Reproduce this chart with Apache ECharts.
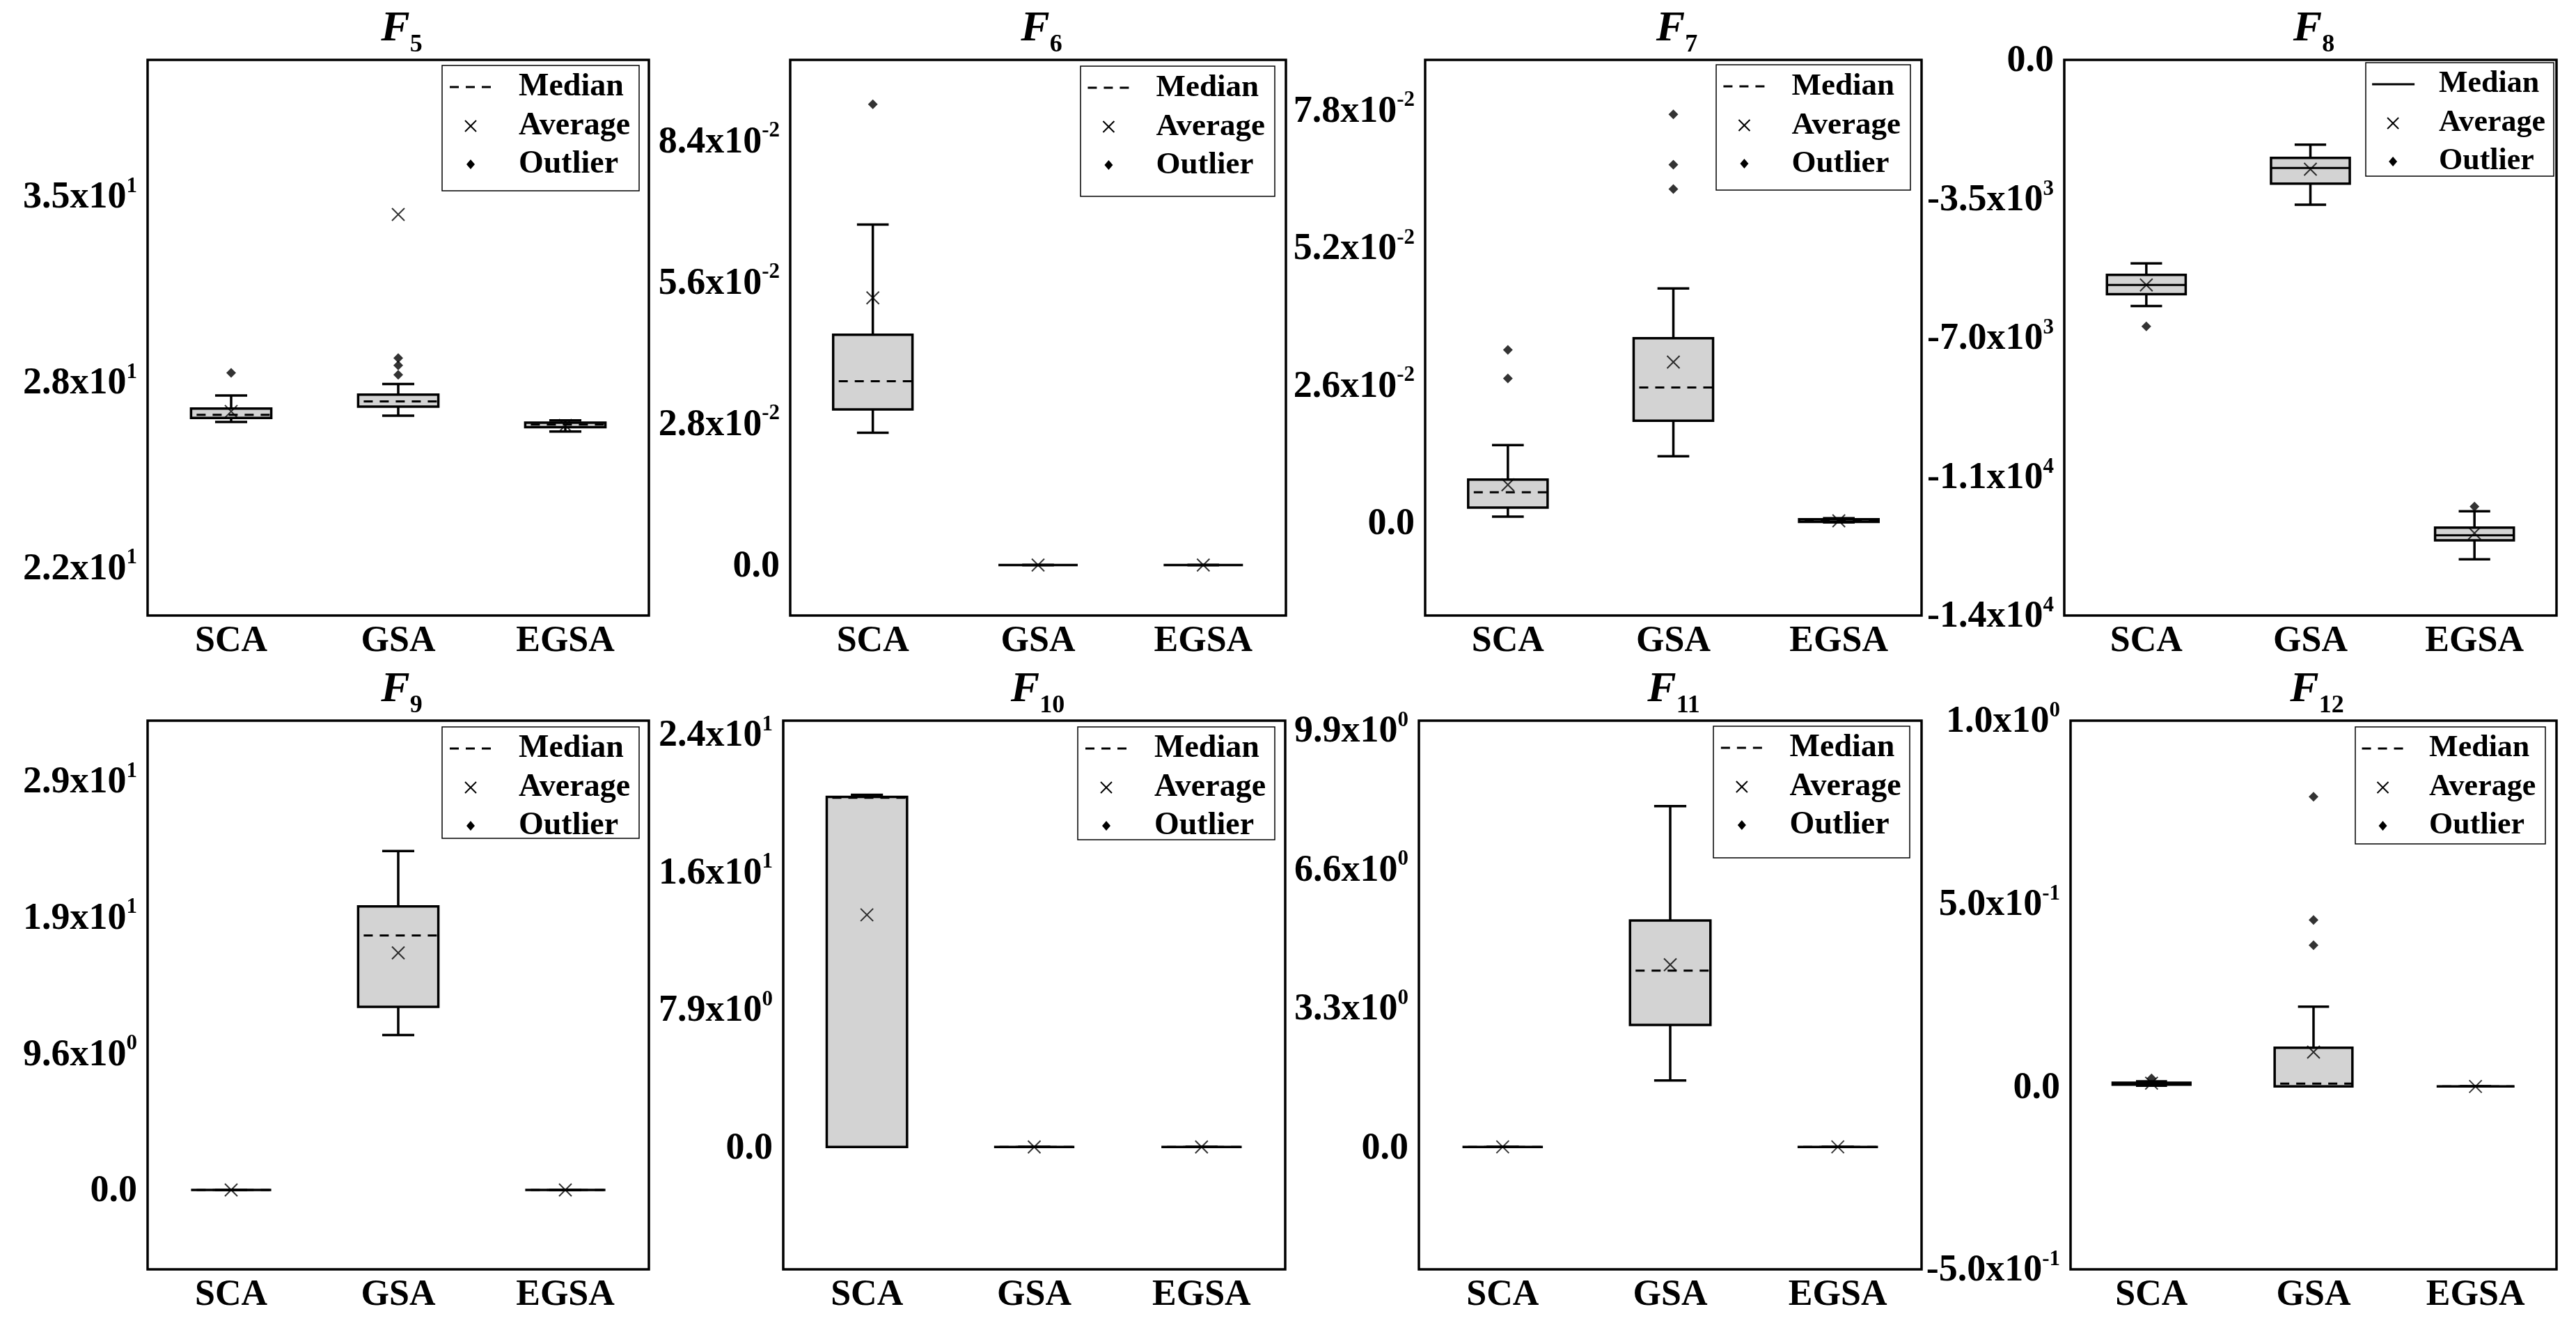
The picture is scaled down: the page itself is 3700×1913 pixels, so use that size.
<!DOCTYPE html>
<html>
<head>
<meta charset="utf-8">
<script src="https://cdn.jsdelivr.net/npm/echarts@6/dist/echarts.min.js"></script>
<style>
html, body { margin: 0; padding: 0; background: #fff; }
#chart { width: 3700px; height: 1913px; }
</style>
</head>
<body>
<div id="chart"></div>
<script>
const categories = ['SCA', 'GSA', 'EGSA'];
const subscripts = ['5', '6', '7', '8', '9', '10', '11', '12'];

// boxes: [min, Q1, median, Q3, max] for SCA, GSA, EGSA
const f5Box = [[26.60, 26.74, 26.85, 27.07, 27.53], [26.82, 27.14, 27.32, 27.56, 27.93], [26.27, 26.42, 26.51, 26.58, 26.66]];
const f5Mean = [26.97, 33.86, 26.48];
const f5Out = [[0, 28.32], [1, 28.84], [1, 28.58], [1, 28.25]];
const f5Ticks = [21.5, 28, 34.5];
const f5Labels = ['2.2x10^1', '2.8x10^1', '3.5x10^1'];
const f5Range = [19.83, 39.27];

const f6Box = [[0.0262, 0.0308, 0.0364, 0.0456, 0.0674], [0, 0, 0, 0, 0], [0, 0, 0, 0, 0]];
const f6Mean = [0.0529, 0, 0];
const f6Out = [[0, 0.0912]];
const f6Ticks = [0, 0.028, 0.056, 0.084];
const f6Labels = ['0.0', '2.8x10^-2', '5.6x10^-2', '8.4x10^-2'];
const f6Range = [-0.01, 0.1];

const f7Box = [[0.0012, 0.0029, 0.0058, 0.0082, 0.0147], [0.0126, 0.0193, 0.0256, 0.0349, 0.0443], [0.0001, 0.0002, 0.0004, 0.0007, 0.0009]];
const f7Mean = [0.0072, 0.0304, 0.0004];
const f7Out = [[0, 0.0327], [0, 0.0273], [1, 0.0772], [1, 0.0677], [1, 0.0631]];
const f7Ticks = [0, 0.026, 0.052, 0.078];
const f7Labels = ['0.0', '2.6x10^-2', '5.2x10^-2', '7.8x10^-2'];
const f7Range = [-0.0175, 0.0875];

const f8Box = [[-6202, -5904, -5670, -5415, -5128], [-3649, -3117, -2723, -2468, -2138], [-12585, -12106, -11978, -11787, -11372]];
const f8Mean = [-5670, -2755, -11925];
const f8Out = [[0, -6713], [2, -11255]];
const f8Ticks = [-14000, -10500, -7000, -3500, 0];
const f8Labels = ['-1.4x10^4', '-1.1x10^4', '-7.0x10^3', '-3.5x10^3', '0.0'];
const f8Range = [-14000, 0];

const f9Box = [[0, 0, 0, 0, 0], [10.91, 12.90, 17.92, 19.97, 23.87], [0, 0, 0, 0, 0]];
const f9Mean = [0, 16.70, 0];
const f9Out = [];
const f9Ticks = [0, 9.6, 19.2, 28.8];
const f9Labels = ['0.0', '9.6x10^0', '1.9x10^1', '2.9x10^1'];
const f9Range = [-5.59, 33.05];

const f10Box = [[0, 0, 20.05, 20.10, 20.22], [0, 0, 0, 0, 0], [0, 0, 0, 0, 0]];
const f10Mean = [13.33, 0, 0];
const f10Out = [];
const f10Ticks = [0, 7.9, 15.8, 23.7];
const f10Labels = ['0.0', '7.9x10^0', '1.6x10^1', '2.4x10^1'];
const f10Range = [-7.03, 24.48];

const f11Box = [[0, 0, 0, 0, 0], [1.58, 2.90, 4.19, 5.38, 8.10], [0, 0, 0, 0, 0]];
const f11Mean = [0, 4.33, 0];
const f11Out = [];
const f11Ticks = [0, 3.3, 6.6, 9.9];
const f11Labels = ['0.0', '3.3x10^0', '6.6x10^0', '9.9x10^0'];
const f11Range = [-2.91, 10.13];

const f12Box = [[0.002, 0.005, 0.008, 0.010, 0.014], [0, 0, 0.008, 0.106, 0.218], [0, 0, 0, 0, 0]];
const f12Mean = [0.009, 0.094, 0];
const f12Out = [[0, 0.022], [1, 0.792], [1, 0.455], [1, 0.386]];
const f12Ticks = [-0.5, 0, 0.5, 1.0];
const f12Labels = ['-5.0x10^-1', '0.0', '5.0x10^-1', '1.0x10^0'];
const f12Range = [-0.5, 1.0];

const panels = [
  { box: f5Box, mean: f5Mean, out: f5Out, ticks: f5Ticks, labels: f5Labels, range: f5Range },
  { box: f6Box, mean: f6Mean, out: f6Out, ticks: f6Ticks, labels: f6Labels, range: f6Range },
  { box: f7Box, mean: f7Mean, out: f7Out, ticks: f7Ticks, labels: f7Labels, range: f7Range },
  { box: f8Box, mean: f8Mean, out: f8Out, ticks: f8Ticks, labels: f8Labels, range: f8Range },
  { box: f9Box, mean: f9Mean, out: f9Out, ticks: f9Ticks, labels: f9Labels, range: f9Range },
  { box: f10Box, mean: f10Mean, out: f10Out, ticks: f10Ticks, labels: f10Labels, range: f10Range },
  { box: f11Box, mean: f11Mean, out: f11Out, ticks: f11Ticks, labels: f11Labels, range: f11Range },
  { box: f12Box, mean: f12Mean, out: f12Out, ticks: f12Ticks, labels: f12Labels, range: f12Range }
];
const solidMedian = [false, false, false, true, false, false, false, false];

// layout (px)
const gridLeft = [212, 1135, 2047, 2965, 212, 1125, 2038, 2974];
const gridWidth = [720, 712, 713, 707, 720, 721, 722, 698];
const rowTop = [86, 1035];
const rowHeight = [798, 788];
const legW = [283, 279, 279, 270, 283, 283, 282, 273];
const legH = [180, 187, 180, 163, 160, 162, 189, 168];
const legTopGap = [8, 9, 7, 4, 9, 9, 8, 9];
const legRightGap = [14, 16, 16, 4, 14, 15, 17, 16];

const FONT = 'Liberation Serif';
const mychart = echarts.init(document.getElementById('chart'));

function richLabel(s) {
  const p = s.split('^');
  return p.length > 1 ? '{b|' + p[0] + '}{e|' + p[1] + '}' : '{b|' + p[0] + '}';
}

function boxRenderer(solid) {
  return function (params, api) {
    const k = api.value(0);
    const lo = api.coord([k, api.value(1)]);
    const q1 = api.coord([k, api.value(2)]);
    const md = api.coord([k, api.value(3)]);
    const q3 = api.coord([k, api.value(4)]);
    const hi = api.coord([k, api.value(5)]);
    const band = api.size([1, 0])[0];
    const bw = band * 0.48, cw = bw * 0.4;
    const cx = lo[0];
    const st = { stroke: '#000', lineWidth: 3.5 };
    return {
      type: 'group',
      children: [
        { type: 'line', shape: { x1: cx, y1: hi[1], x2: cx, y2: q3[1] }, style: st },
        { type: 'line', shape: { x1: cx, y1: q1[1], x2: cx, y2: lo[1] }, style: st },
        { type: 'line', shape: { x1: cx - cw / 2, y1: hi[1], x2: cx + cw / 2, y2: hi[1] }, style: st },
        { type: 'line', shape: { x1: cx - cw / 2, y1: lo[1], x2: cx + cw / 2, y2: lo[1] }, style: st },
        { type: 'rect', shape: { x: cx - bw / 2, y: q3[1], width: bw, height: q1[1] - q3[1] },
          style: { fill: '#d3d3d3', stroke: '#000', lineWidth: 3.5 } },
        { type: 'line', shape: { x1: cx - bw / 2 + (solid ? 0 : 8), y1: md[1], x2: cx + bw / 2, y2: md[1] },
          style: { stroke: '#000', lineWidth: 3, lineDash: solid ? null : [13, 10] } }
      ]
    };
  };
}

const grids = [], xAxes = [], yAxes = [], series = [], titles = [], graphics = [];

panels.forEach(function (p, i) {
  const row = i < 4 ? 0 : 1;
  const top = rowTop[row];
  grids.push({
    left: gridLeft[i], top: top, width: gridWidth[i], height: rowHeight[row],
    show: true, borderColor: '#000', borderWidth: 3.5, backgroundColor: 'transparent',
    outerBoundsMode: 'none'
  });
  xAxes.push({
    type: 'category', gridIndex: i, data: categories, boundaryGap: true,
    axisLine: { show: false },
    axisTick: { inside: true, alignWithLabel: true, length: 14, lineStyle: { color: '#000', width: 3 } },
    axisLabel: { interval: 0, margin: 12, color: '#000', fontFamily: FONT, fontWeight: 'bold', fontSize: 52 },
    splitLine: { show: false }
  });
  const labelMap = function (v) {
    for (let j = 0; j < p.ticks.length; j++) {
      if (Math.abs(p.ticks[j] - v) < 1e-9 * Math.max(1, Math.abs(v)) + 1e-12) return richLabel(p.labels[j]);
    }
    return '';
  };
  yAxes.push({
    type: 'value', gridIndex: i, position: 'left', min: p.range[0], max: p.range[1],
    axisLine: { show: false }, splitLine: { show: false },
    axisTick: { inside: true, length: 13, customValues: p.ticks, lineStyle: { color: '#000', width: 3 } },
    axisLabel: {
      customValues: p.ticks, margin: 15, color: '#000', formatter: labelMap,
      rich: {
        b: { fontFamily: FONT, fontWeight: 'bold', fontSize: 54, color: '#000', padding: [5, 0, 0, 0] },
        e: { fontFamily: FONT, fontWeight: 'bold', fontSize: 31, color: '#000', verticalAlign: 'top' }
      }
    }
  });
  yAxes.push({
    type: 'value', gridIndex: i, position: 'right', min: p.range[0], max: p.range[1],
    axisLine: { show: false }, splitLine: { show: false },
    axisTick: { inside: true, length: 13, customValues: p.ticks, lineStyle: { color: '#000', width: 3 } },
    axisLabel: { show: false }
  });

  series.push({
    type: 'custom', name: 'Median', xAxisIndex: i, yAxisIndex: 2 * i, silent: true, z: 2,
    renderItem: boxRenderer(solidMedian[i]),
    encode: { x: 0, y: [1, 2, 3, 4, 5] },
    data: p.box.map(function (b, k) { return [k].concat(b); })
  });
  series.push({
    type: 'scatter', name: 'Average', xAxisIndex: i, yAxisIndex: 2 * i, silent: true, z: 4,
    symbol: 'path://M0,0L10,10M10,0L0,10', symbolSize: 18,
    itemStyle: { color: 'transparent', borderColor: '#000', borderWidth: 2 },
    data: p.mean.map(function (m, k) { return [k, m]; })
  });
  series.push({
    type: 'scatter', name: 'Outlier', xAxisIndex: i, yAxisIndex: 2 * i, silent: true, z: 4,
    symbol: 'diamond', symbolSize: 14, itemStyle: { color: '#000' },
    data: p.out
  });

  titles.push({
    text: '{f|F}{s|' + subscripts[i] + '}',
    left: gridLeft[i] + gridWidth[i] / 2, top: top - 80, textAlign: 'center',
    textStyle: {
      rich: {
        f: { fontFamily: FONT, fontStyle: 'italic', fontWeight: 'bold', fontSize: 62, color: '#000',
             verticalAlign: 'bottom', padding: [0, 0, 10, 0] },
        s: { fontFamily: FONT, fontWeight: 'bold', fontSize: 36, color: '#000', verticalAlign: 'bottom' }
      }
    }
  });

  // legend box
  const w = legW[i], h = legH[i], sc = w / 283;
  const lx = gridLeft[i] + gridWidth[i] - legRightGap[i] - w;
  const ly = top + legTopGap[i];
  const sx = lx + 41 * sc, tx = lx + 110 * sc;
  const rows = [ly + 31, ly + 87, ly + 142];
  const fs = Math.round(46 * sc);
  const txt = function (s, y) {
    return { type: 'text', x: tx, y: y, style: { text: s, fill: '#000', font: 'bold ' + fs + 'px "' + FONT + '"',
      textVerticalAlign: 'middle', verticalAlign: 'middle' } };
  };
  graphics.push({
    type: 'group', children: [
      { type: 'rect', shape: { x: lx, y: ly, width: w, height: h }, style: { fill: 'none', stroke: '#000', lineWidth: 1.5 } },
      { type: 'line', shape: { x1: sx - 30, y1: rows[0], x2: sx + 31, y2: rows[0] },
        style: { stroke: '#000', lineWidth: 3, lineDash: solidMedian[i] ? null : [13, 10] } },
      { type: 'line', shape: { x1: sx - 8, y1: rows[1] - 8, x2: sx + 8, y2: rows[1] + 8 }, style: { stroke: '#000', lineWidth: 2 } },
      { type: 'line', shape: { x1: sx - 8, y1: rows[1] + 8, x2: sx + 8, y2: rows[1] - 8 }, style: { stroke: '#000', lineWidth: 2 } },
      { type: 'polygon', shape: { points: [[sx, rows[2] - 7], [sx + 6, rows[2]], [sx, rows[2] + 7], [sx - 6, rows[2]]] },
        style: { fill: '#000' } },
      txt('Median', rows[0]), txt('Average', rows[1]), txt('Outlier', rows[2])
    ]
  });
});

const option = {
  animation: false,
  backgroundColor: '#fff',
  title: titles,
  grid: grids,
  xAxis: xAxes,
  yAxis: yAxes,
  graphic: graphics,
  series: series
};
mychart.setOption(option, true);
</script>
</body>
</html>
